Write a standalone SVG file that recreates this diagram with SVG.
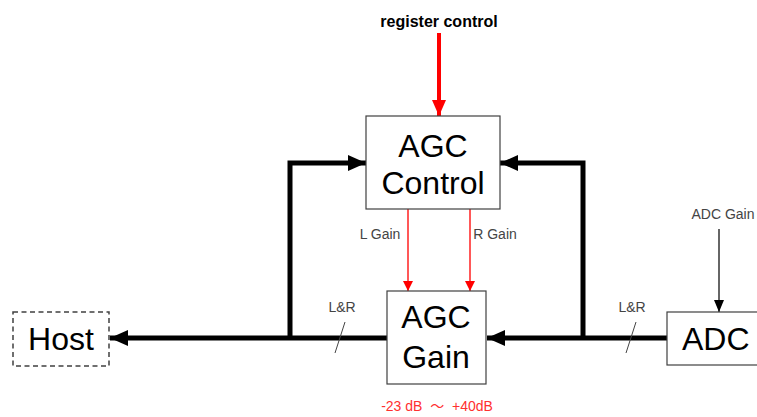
<svg xmlns="http://www.w3.org/2000/svg" width="757" height="417" viewBox="0 0 757 417">
<style>
.box{fill:#fff;stroke:#404040;stroke-width:1.2}
.dash{fill:#fff;stroke:#404040;stroke-width:1.5;stroke-dasharray:5 3.5}
.big{font-family:"Liberation Sans",Arial,sans-serif;font-size:32px;fill:#000;text-anchor:middle}
.lbl{font-family:"Liberation Sans",Arial,sans-serif;font-size:14px;fill:#444;text-anchor:middle}
.thick{stroke:#000;stroke-width:5;fill:none}
.red{stroke:#ff2020;stroke-width:1.5;fill:none}
</style>
<defs>
<marker id="ah" markerUnits="userSpaceOnUse" markerWidth="18" markerHeight="16" refX="18" refY="8" orient="auto"><path d="M0,0 L18,8 L0,16 Z" fill="#000"/></marker>
<marker id="ahr" markerUnits="userSpaceOnUse" markerWidth="10" markerHeight="10" refX="10" refY="5" orient="auto"><path d="M0,0 L10,5 L0,10 Z" fill="#ff0000"/></marker>
<marker id="ahrb" markerUnits="userSpaceOnUse" markerWidth="16" markerHeight="14" refX="16" refY="7" orient="auto"><path d="M0,0 L16,7 L0,14 Z" fill="#ff0000"/></marker>
<marker id="ahk" markerUnits="userSpaceOnUse" markerWidth="12" markerHeight="10" refX="12" refY="5" orient="auto"><path d="M0,0 L12,5 L0,10 Z" fill="#000"/></marker>
</defs>
<g id="connectors">
<line x1="387" y1="338" x2="110" y2="338" class="thick" marker-end="url(#ah)"/>
<polyline points="290,338 290,163 366,163" class="thick" marker-end="url(#ah)"/>
<line x1="667" y1="338" x2="487" y2="338" class="thick" marker-end="url(#ah)"/>
<polyline points="583,338 583,163 500,163" class="thick" marker-end="url(#ah)"/>
<line x1="439" y1="33" x2="439" y2="116" stroke="#ff0000" stroke-width="4" marker-end="url(#ahrb)"/>
<line x1="408" y1="209" x2="408" y2="291" class="red" marker-end="url(#ahr)"/>
<line x1="470" y1="209" x2="470" y2="291" class="red" marker-end="url(#ahr)"/>
<line x1="719" y1="229" x2="719" y2="312" stroke="#333" stroke-width="1.5" marker-end="url(#ahk)"/>
<line x1="345" y1="322" x2="335" y2="353" stroke="#444" stroke-width="1"/>
<line x1="636" y1="322" x2="626" y2="353" stroke="#444" stroke-width="1"/>
<text x="342" y="312" class="lbl">L&amp;R</text>
<text x="632" y="312" class="lbl">L&amp;R</text>
<text x="380" y="239" class="lbl">L Gain</text>
<text x="495" y="239" class="lbl">R Gain</text>
<text x="723" y="219" class="lbl">ADC Gain</text>
<text x="439" y="27" font-family="Liberation Sans,Arial,sans-serif" font-size="16" font-weight="bold" fill="#000" text-anchor="middle">register control</text>
</g>
<g id="host">
<rect x="13" y="312" width="96" height="54" class="dash"/>
<text x="61" y="350" class="big">Host</text>
</g>
<g id="agc-control">
<rect x="366" y="116" width="134" height="93" class="box"/>
<text x="433" y="157" class="big">AGC</text>
<text x="433" y="194" class="big">Control</text>
</g>
<g id="agc-gain">
<rect x="387" y="291" width="99" height="93" class="box"/>
<text x="436" y="328" class="big">AGC</text>
<text x="436" y="368" class="big">Gain</text>
<text x="437" y="411" font-family="Liberation Sans,'Noto Sans CJK JP',sans-serif" font-size="14" fill="#ff3030" text-anchor="middle" xml:space="preserve">-23 dB  ～  +40dB</text>
</g>
<g id="adc">
<rect x="667" y="312" width="100" height="53" class="box"/>
<text x="682" y="350" font-family="Liberation Sans,Arial,sans-serif" font-size="32" fill="#000">ADC</text>
</g>
</svg>
